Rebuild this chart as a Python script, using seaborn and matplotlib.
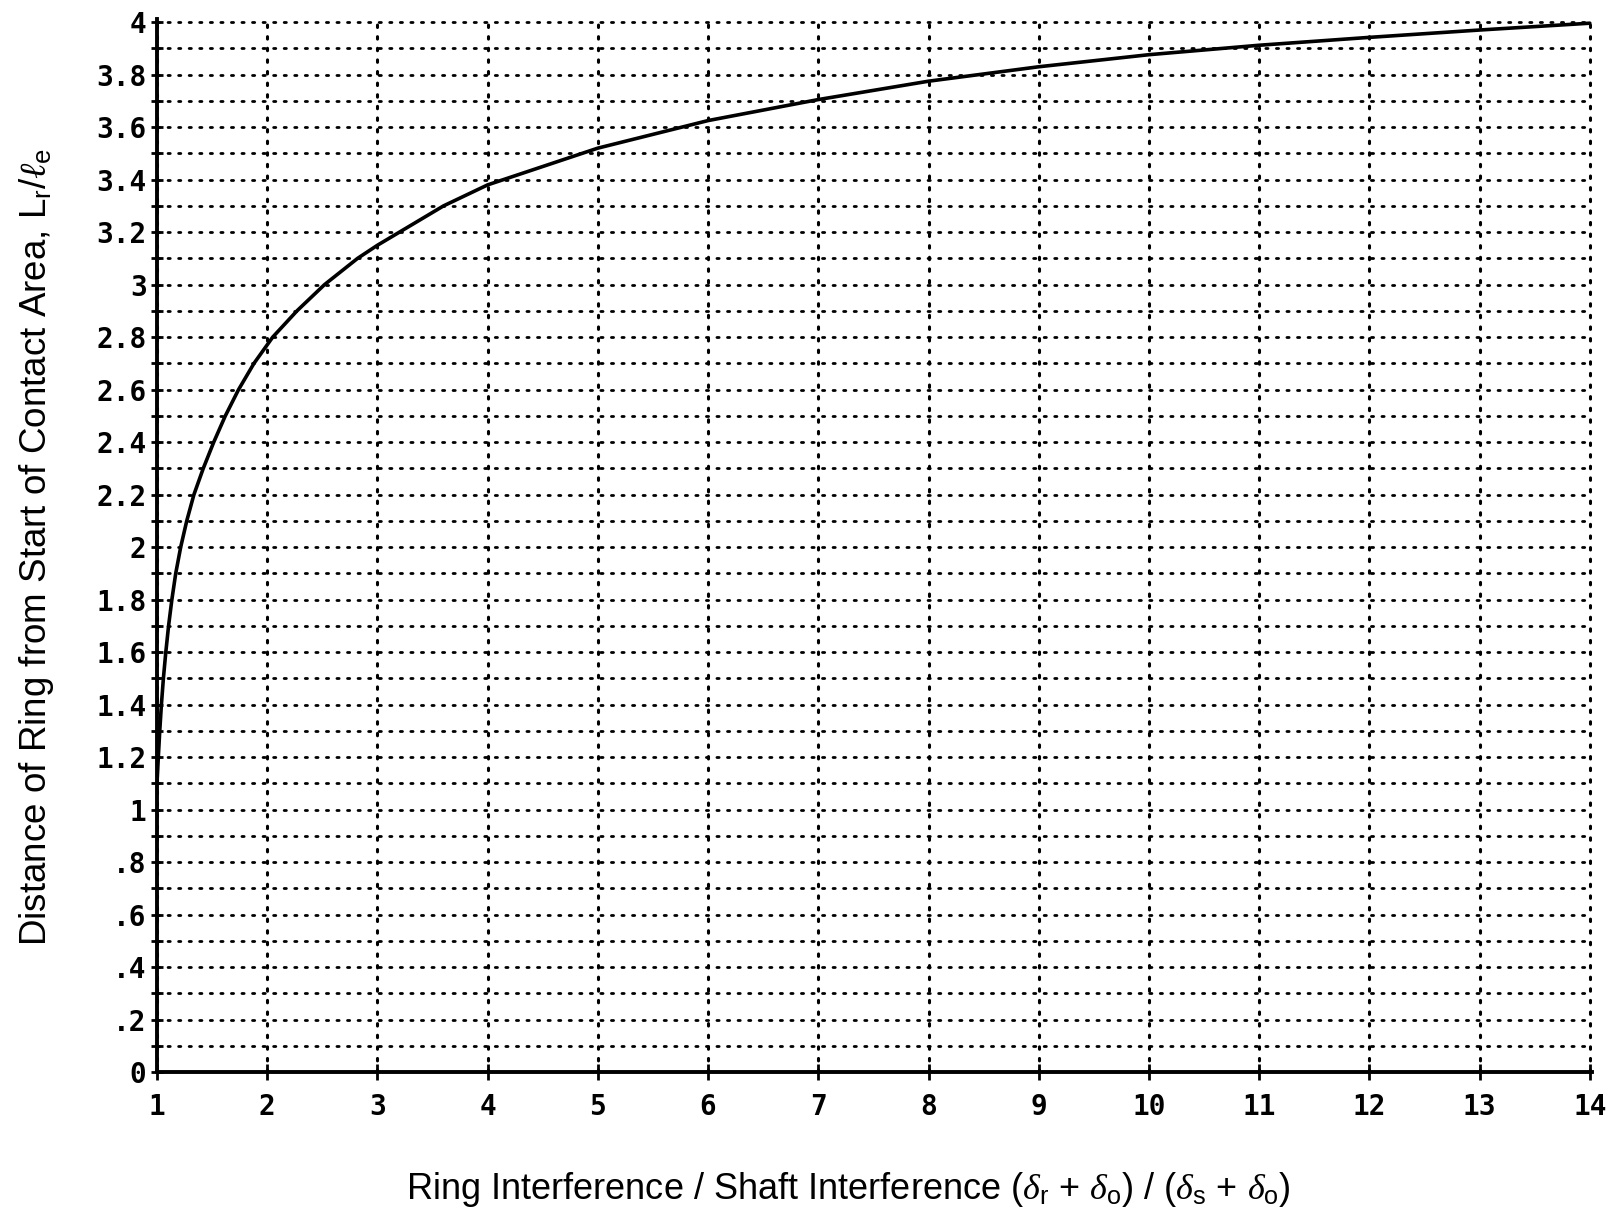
import matplotlib
matplotlib.use("Agg")
import matplotlib.pyplot as plt
import seaborn as sns
from matplotlib.ticker import FixedLocator, MultipleLocator

# ---- data ----
ratio = [1.00, 1.012, 1.025, 1.04, 1.058, 1.08, 1.105, 1.135, 1.17, 1.215, 1.27,
         1.335, 1.42, 1.515, 1.62, 1.74, 1.88, 2.05, 2.27, 2.52, 2.82, 3.00, 3.20,
         3.60, 4.0, 5.0, 6.0, 7.0, 8.0, 9.0, 10.0, 11.0, 12.0, 13.0, 14.0]
distance = [1.1, 1.2, 1.3, 1.4, 1.5, 1.6, 1.7, 1.8, 1.9, 2.0, 2.1,
            2.2, 2.3, 2.4, 2.5, 2.6, 2.7, 2.8, 2.9, 3.0, 3.1, 3.15, 3.2,
            3.3, 3.38, 3.52, 3.625, 3.705, 3.775, 3.83, 3.876, 3.912, 3.942, 3.97, 3.996]

x_ticks = list(range(1, 15))
x_tick_labels = [str(v) for v in x_ticks]
y_ticks = [0, 0.2, 0.4, 0.6, 0.8, 1.0, 1.2, 1.4, 1.6, 1.8, 2.0, 2.2, 2.4, 2.6,
           2.8, 3.0, 3.2, 3.4, 3.6, 3.8, 4.0]
y_tick_labels = ["0", ".2", ".4", ".6", ".8", "1", "1.2", "1.4", "1.6", "1.8",
                 "2", "2.2", "2.4", "2.6", "2.8", "3", "3.2", "3.4", "3.6",
                 "3.8", "4"]
x_label = (r"Ring Interference / Shaft Interference "
           r"($\delta_{\mathrm{r}}$ + $\delta_{\mathrm{o}}$) / "
           r"($\delta_{\mathrm{s}}$ + $\delta_{\mathrm{o}}$)")
y_label = r"Distance of Ring from Start of Contact Area, L$_{\mathrm{r}}$/$\ell_{\mathrm{e}}$"

sns.set_style("white")
plt.rcParams["font.family"] = ["Liberation Sans", "DejaVu Sans"]
plt.rcParams["mathtext.fontset"] = "custom"
plt.rcParams["mathtext.rm"] = "Liberation Sans"
plt.rcParams["mathtext.it"] = "Liberation Serif:italic"
plt.rcParams["text.color"] = "black"

W, H = 1611, 1218
fig = plt.figure(figsize=(W / 100, H / 100), dpi=100)
L, R, T, B = 157, 1592, 19, 1072
ax = fig.add_axes([L / W, 1 - B / H, (R - L) / W, (B - T) / H])

sns.lineplot(x=ratio, y=distance, ax=ax, color="black", linewidth=2.6,
             estimator=None, sort=False, zorder=5)

ax.set_xlim(1, 14.02)
ax.set_ylim(0, 4.012)

ax.xaxis.set_major_locator(FixedLocator(x_ticks))
ax.set_xticklabels(x_tick_labels)
ax.yaxis.set_major_locator(FixedLocator(y_ticks))
ax.set_yticklabels(y_tick_labels)
ax.yaxis.set_minor_locator(MultipleLocator(0.1))

dot = (0, (0.8, 3.0))
ax.grid(which="both", axis="y", color="black", linestyle=dot, linewidth=2.0,
        dash_capstyle="round")
ax.grid(which="major", axis="x", color="black", linestyle=dot, linewidth=2.2,
        dash_capstyle="round")
ax.set_axisbelow(True)

for s in ["top", "right"]:
    ax.spines[s].set_visible(False)
for s in ["left", "bottom"]:
    ax.spines[s].set_linewidth(2.8)
    ax.spines[s].set_color("black")
    ax.spines[s].set_zorder(6)

for lab in ax.get_xticklabels() + ax.get_yticklabels():
    lab.set_fontfamily("DejaVu Sans Mono")
    lab.set_fontweight("bold")
    lab.set_fontsize(20)

ax.tick_params(axis="y", which="both", direction="inout", length=9, width=2.0,
               color="black", labelcolor="black", pad=3, left=True)
ax.tick_params(axis="x", which="major", direction="inout", length=12, width=2.0,
               color="black", labelcolor="black", pad=9, bottom=True)

ax.set_xlabel(x_label, fontsize=26, color="black")
ax.xaxis.set_label_coords((848 - L) / (R - L), (B - 1170) / (B - T))
ax.set_ylabel(y_label, fontsize=26.5, color="black")
ax.yaxis.set_label_coords((56 - L) / (R - L), (B - 547) / (B - T))

fig.savefig("out.png", dpi=100, facecolor="white")
